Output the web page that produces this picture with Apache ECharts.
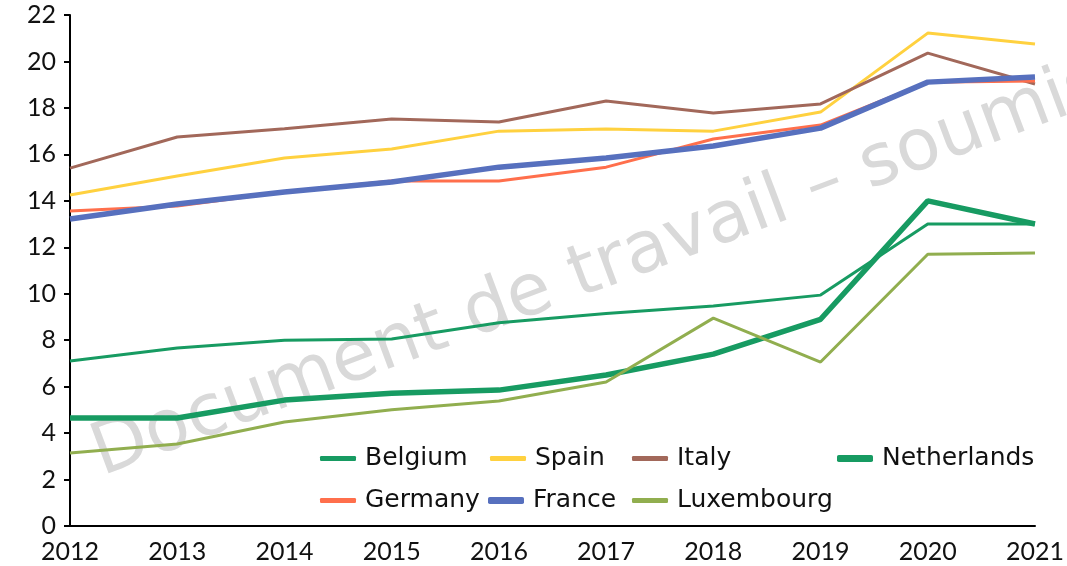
<!DOCTYPE html>
<html><head><meta charset="utf-8">
<script src="https://cdn.jsdelivr.net/npm/echarts@6/dist/echarts.min.js"></script>
<style>html,body{margin:0;padding:0;background:#fff}#c{width:1067px;height:566px}</style>
</head><body><div id="c"></div>
<script>
const years = ['2012','2013','2014','2015','2016','2017','2018','2019','2020','2021'];
const belgium     = [7.1, 7.66, 8.0, 8.05, 8.75, 9.15, 9.47, 9.94, 13.0, 13.0];
const spain       = [14.25, 15.07, 15.84, 16.23, 17.0, 17.09, 17.0, 17.82, 21.22, 20.75];
const italy       = [15.41, 16.75, 17.1, 17.52, 17.39, 18.3, 17.78, 18.17, 20.36, 19.03];
const netherlands = [4.65, 4.65, 5.42, 5.72, 5.85, 6.5, 7.4, 8.9, 14.0, 13.0];
const germany     = [13.56, 13.78, 14.38, 14.85, 14.85, 15.45, 16.66, 17.26, 19.11, 19.16];
const france      = [13.22, 13.86, 14.38, 14.81, 15.45, 15.84, 16.36, 17.13, 19.11, 19.33];
const luxembourg  = [3.14, 3.53, 4.48, 5.0, 5.38, 6.2, 8.95, 7.06, 11.7, 11.75];

const AXFONT = 'Lato, "Noto Sans", sans-serif';
const LGFONT = '"DejaVu Sans", "Noto Sans", sans-serif';
const seriesDefs = [
  {name:'Belgium', data:belgium, color:'#179b62', w:3},
  {name:'Spain', data:spain, color:'#ffd13f', w:3},
  {name:'Italy', data:italy, color:'#a2685a', w:3},
  {name:'Netherlands', data:netherlands, color:'#179b62', w:5.5},
  {name:'Germany', data:germany, color:'#ff6f4c', w:3},
  {name:'France', data:france, color:'#5770be', w:5.5},
  {name:'Luxembourg', data:luxembourg, color:'#91ae4f', w:3}
];
const legendPos = {
  Belgium:[315,441], Spain:[485,441], Italy:[627,441], Netherlands:[832,441],
  Germany:[315,483], France:[483,483], Luxembourg:[627,483]
};
const legends = seriesDefs.map(s => ({
  data:[s.name], left:legendPos[s.name][0], top:legendPos[s.name][1],
  icon:'roundRect', itemWidth:36, itemHeight:s.w > 4 ? 7 : 5, itemGap:0,
  textStyle:{fontSize:25, color:'#111', fontFamily:LGFONT, padding:[0,0,0,4]},
  selectedMode:false
}));

const chart = echarts.init(document.getElementById('c'));
chart.setOption({
  animation:false,
  backgroundColor:'#fff',
  grid:{left:70, right:32, top:15, bottom:40, containLabel:false},
  legend: legends,
  graphic:[{
    type:'text', x:108, y:492, z:0, rotation: 20.5*Math.PI/180,
    style:{text:'Document de travail – soumis', fontSize:72, fontFamily:LGFONT,
      fill:'#d9d9d9', align:'left', verticalAlign:'bottom'}
  }],
  xAxis:{type:'category', data:years, boundaryGap:false,
    axisLine:{lineStyle:{color:'#000', width:2}}, axisTick:{show:false},
    axisLabel:{fontSize:25, color:'#111', fontFamily:AXFONT, margin:13, interval:0}},
  yAxis:{type:'value', min:0, max:22, interval:2,
    axisLine:{show:true, lineStyle:{color:'#000', width:2}},
    axisTick:{show:true, length:6, lineStyle:{color:'#000', width:2}},
    splitLine:{show:false},
    axisLabel:{fontSize:25, color:'#111', fontFamily:AXFONT, margin:14}},
  series: seriesDefs.map(s => ({
    name:s.name, type:'line', data:s.data, symbol:'none', z:2,
    lineStyle:{color:s.color, width:s.w}, itemStyle:{color:s.color}
  }))
});
</script></body></html>
